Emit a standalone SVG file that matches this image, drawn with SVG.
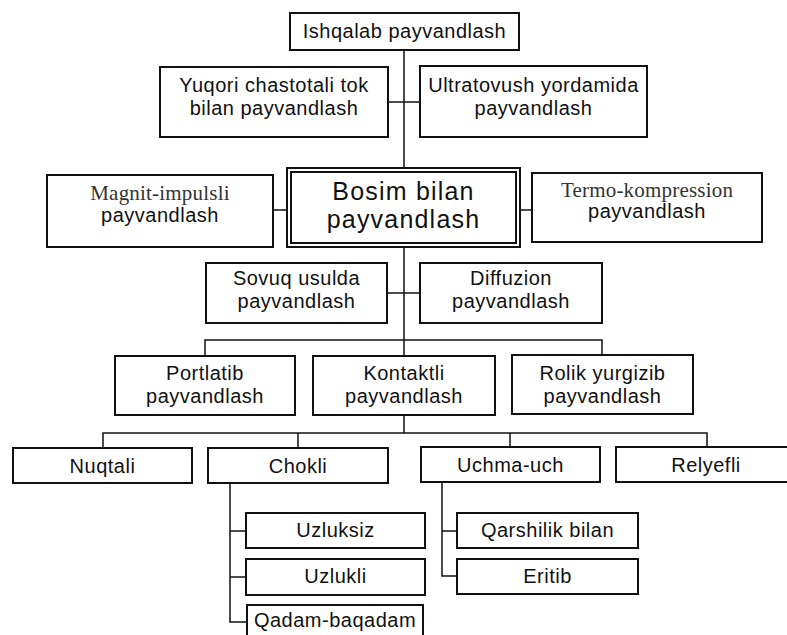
<svg xmlns="http://www.w3.org/2000/svg" width="787" height="635" viewBox="0 0 787 635">
<style>
.b{fill:#fff;stroke:#111;stroke-width:2}
.t{font-family:"Liberation Sans",Arial,sans-serif;font-size:20px;letter-spacing:0.5px;fill:#111;text-anchor:middle}
.s{font-family:"Liberation Serif","Times New Roman",serif;font-size:21px;letter-spacing:0.2px;fill:#333;text-anchor:middle}
.big{font-size:25px;letter-spacing:1.2px}
.c{fill:none;stroke:#111;stroke-width:1.5}
</style>
<rect width="787" height="635" fill="#fff"/>
<g id="connectors" class="c">
<path d="M404 50V168M404 247V356"/>
<path d="M388 102H420"/>
<path d="M273 210H287M520 210H532"/>
<path d="M387 293H420"/>
<path d="M205 356V340H602V355"/>
<path d="M404 415V433"/>
<path d="M103 448V433H707V447M298 433V448M510 433V447"/>
<path d="M230 483V622H247M230 531H246M230 577H246"/>
<path d="M442 482V576H457M442 531H457"/>
</g>
<g id="ishqalab"><rect class="b" x="290" y="13" width="229" height="37"/><text class="t" x="404.5" y="38">Ishqalab payvandlash</text></g>
<g id="yuqori"><rect class="b" x="160" y="67" width="228" height="70"/><text class="t" x="274" y="92">Yuqori chastotali tok</text><text class="t" x="274" y="115">bilan payvandlash</text></g>
<g id="ultratovush"><rect class="b" x="420" y="66" width="227" height="71"/><text class="t" x="533.5" y="92">Ultratovush yordamida</text><text class="t" x="533.5" y="115">payvandlash</text></g>
<g id="magnit"><rect class="b" x="47" y="175" width="226" height="72"/><text class="s" x="160" y="200">Magnit-impulsli</text><text class="t" x="160" y="222">payvandlash</text></g>
<g id="bosim"><rect class="b" x="287" y="168" width="233" height="79"/><rect class="b" x="291" y="172" width="225" height="71"/><text class="t big" x="403.5" y="200">Bosim bilan</text><text class="t big" x="403.5" y="228">payvandlash</text></g>
<g id="termo"><rect class="b" x="532" y="173" width="230" height="69"/><text class="s" x="647" y="197">Termo-kompression</text><text class="t" x="647" y="218">payvandlash</text></g>
<g id="sovuq"><rect class="b" x="206" y="263" width="181" height="60"/><text class="t" x="296.5" y="285">Sovuq usulda</text><text class="t" x="296.5" y="308">payvandlash</text></g>
<g id="diffuzion"><rect class="b" x="420" y="263" width="182" height="60"/><text class="t" x="511" y="285">Diffuzion</text><text class="t" x="511" y="308">payvandlash</text></g>
<g id="portlatib"><rect class="b" x="115" y="356" width="180" height="59"/><text class="t" x="205" y="380">Portlatib</text><text class="t" x="205" y="403">payvandlash</text></g>
<g id="kontaktli"><rect class="b" x="313" y="356" width="182" height="59"/><text class="t" x="404" y="380">Kontaktli</text><text class="t" x="404" y="403">payvandlash</text></g>
<g id="rolik"><rect class="b" x="512" y="355" width="181" height="59"/><text class="t" x="602.5" y="380">Rolik yurgizib</text><text class="t" x="602.5" y="403">payvandlash</text></g>
<g id="nuqtali"><rect class="b" x="13" y="448" width="179" height="35"/><text class="t" x="102.5" y="473">Nuqtali</text></g>
<g id="chokli"><rect class="b" x="208" y="448" width="180" height="35"/><text class="t" x="298" y="473">Chokli</text></g>
<g id="uchma"><rect class="b" x="421" y="447" width="179" height="35"/><text class="t" x="510.5" y="472">Uchma-uch</text></g>
<g id="relyefli"><rect class="b" x="616" y="447" width="182" height="35"/><text class="t" x="706" y="472">Relyefli</text></g>
<g id="uzluksiz"><rect class="b" x="246" y="513" width="179" height="35"/><text class="t" x="335.5" y="537">Uzluksiz</text></g>
<g id="uzlukli"><rect class="b" x="246" y="559" width="179" height="36"/><text class="t" x="335.5" y="583">Uzlukli</text></g>
<g id="qadam"><rect class="b" x="247" y="605" width="176" height="40"/><text class="t" x="335" y="627">Qadam-baqadam</text></g>
<g id="qarshilik"><rect class="b" x="457" y="513" width="181" height="35"/><text class="t" x="547.5" y="537">Qarshilik bilan</text></g>
<g id="eritib"><rect class="b" x="457" y="559" width="181" height="35"/><text class="t" x="547.5" y="583">Eritib</text></g>
</svg>
